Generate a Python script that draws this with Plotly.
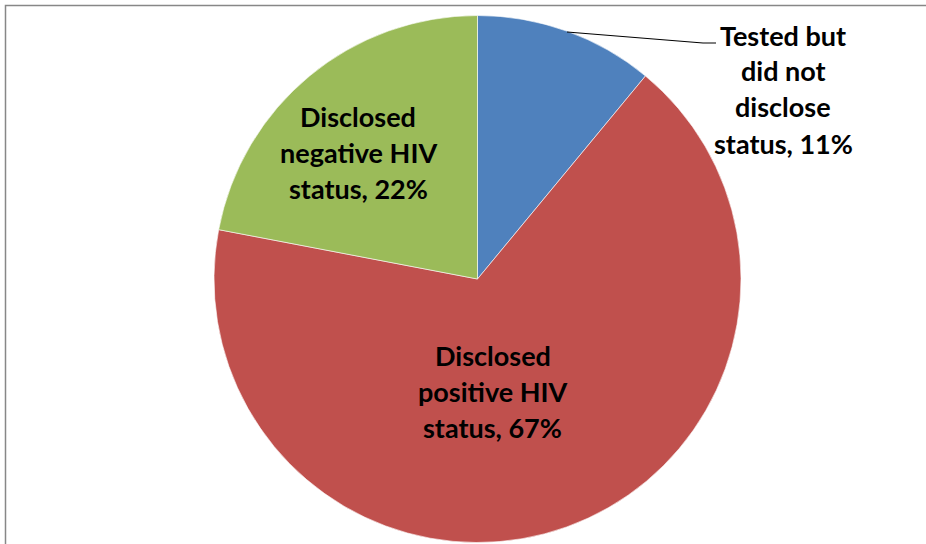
import plotly.graph_objects as go

# HIV testing / disclosure breakdown
categories = [
    "Tested but<br>did not<br>disclose<br>status",
    "Disclosed<br>positive HIV<br>status",
    "Disclosed<br>negative HIV<br>status",
]
values = [11, 67, 22]
colors = ["#4F81BD", "#C0504D", "#9BBB59"]

W, H = 926, 544


def px(x):
    return x / W


def py(y):
    return 1 - y / H


fig = go.Figure(
    go.Pie(
        labels=categories,
        values=values,
        sort=False,
        direction="clockwise",
        rotation=0,
        marker=dict(colors=colors, line=dict(color="#FFFFFF", width=0.6)),
        textinfo="none",
        hoverinfo="label+percent",
        domain=dict(x=[px(214), px(741)], y=[py(542.5), py(15.5)]),
        showlegend=False,
    )
)

# label block positions (centre x, first-line y) and line spacing
label_pos = [(783, 35), (493, 355), (358, 116)]
line_gap = 36

annotations = []
for cat, val, (cx, y0) in zip(categories, values, label_pos):
    lines = f"{cat}, {val}%".split("<br>")
    for i, line in enumerate(lines):
        annotations.append(
            dict(
                x=px(cx), y=py(y0 + i * line_gap),
                xref="paper", yref="paper",
                text=line, showarrow=False,
                xanchor="center", yanchor="middle",
                font=dict(family="Lato", size=27, color="#000000", weight="bold"),
            )
        )

shapes = [
    # chart frame
    dict(type="rect", xref="paper", yref="paper",
         x0=px(5.5), x1=1.02, y0=-0.02, y1=py(5.5),
         line=dict(color="#878787", width=1.5), fillcolor="rgba(0,0,0,0)",
         layer="below"),
    # leader line for the small slice
    dict(type="path", xref="paper", yref="paper",
         path=f"M {px(567)},{py(32)} L {px(703)},{py(43)} L {px(716)},{py(43)}",
         line=dict(color="#000000", width=1.2)),
]

fig.update_layout(
    width=W, height=H,
    margin=dict(l=0, r=0, t=0, b=0),
    paper_bgcolor="#FFFFFF",
    plot_bgcolor="#FFFFFF",
    annotations=annotations,
    shapes=shapes,
)

fig.write_html("out.html")
